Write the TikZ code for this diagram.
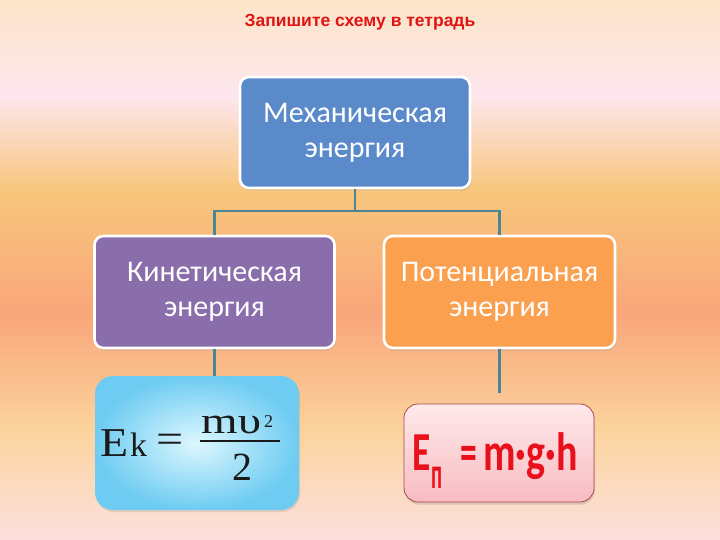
\documentclass[tikz,border=0pt]{standalone}
\usepackage{fontspec}
\usepackage{graphicx}
\setmainfont{Carlito}
\newfontfamily\arialf{Liberation Sans}
\newfontfamily\timesf{Liberation Serif}
\usetikzlibrary{shadows,calc}
\definecolor{bgA}{HTML}{FBE5C8}
\definecolor{bgB}{HTML}{FDE6EE}
\definecolor{bgC}{HTML}{F8C67C}
\definecolor{bgD}{HTML}{F9A67A}
\definecolor{bgE}{HTML}{FBD49E}
\definecolor{bgF}{HTML}{FDE0DF}
\definecolor{mechblue}{HTML}{5A8ACA}
\definecolor{kinpurple}{HTML}{8A6DAB}
\definecolor{potorange}{HTML}{FAA04E}
\definecolor{connteal}{HTML}{4C8593}
\definecolor{titlered}{HTML}{E01414}
\definecolor{formred}{HTML}{E8101A}
\definecolor{forminkb}{HTML}{1A1A1A}
\definecolor{ekin}{HTML}{DDF7FE}
\definecolor{ekout}{HTML}{6ECCF2}
\definecolor{eptop}{HTML}{FFE9EB}
\definecolor{epbot}{HTML}{F7BCC2}
\definecolor{epborder}{HTML}{A8484F}
\tikzset{
  catbox/.style={rounded corners=9pt, draw=white, line width=2.6pt,
    text=white, align=center, inner sep=0pt,
    font=\fontsize{30}{35}\selectfont,
    drop shadow={opacity=0.25, shadow xshift=1pt, shadow yshift=-2.5pt}},
  conn/.style={draw=connteal, line width=2.2pt},
  ekglyph/.style={inner sep=0pt, text=forminkb, font=\timesf},
  epglyph/.style={inner sep=0pt, text=formred, font=\bfseries},
}
\begin{document}
\begin{tikzpicture}[x=1pt,y=-1pt]
\useasboundingbox (0,0) rectangle (720,540);
% background bands
\shade[top color=bgA, bottom color=bgB] (0,0) rectangle (720,97);
\shade[top color=bgB, bottom color=bgC] (0,96.5) rectangle (720,190);
\shade[top color=bgC, bottom color=bgD] (0,189.5) rectangle (720,313);
\shade[top color=bgD, bottom color=bgE] (0,312.5) rectangle (720,433);
\shade[top color=bgE, bottom color=bgF] (0,432.5) rectangle (720,540);

\node[text=titlered, font=\arialf\bfseries\fontsize{17.5}{20}\selectfont] (title) at (360,22) {Запишите схему в тетрадь};

\node[catbox, fill=mechblue, minimum width=230, minimum height=111] (mech) at (355,132.5) {Механическая\\энергия};
\node[catbox, fill=kinpurple, minimum width=240, minimum height=112] (kin) at (214.5,292) {Кинетическая\\энергия};
\node[catbox, fill=potorange, minimum width=231, minimum height=112] (pot) at (499.5,292) {Потенциальная\\энергия};

% kinetic energy formula box
\node[rounded corners=18pt, minimum width=204, minimum height=134, inner sep=0pt,
  shading=radial, inner color=ekin, outer color=ekout,
  drop shadow={opacity=0.2, shadow xshift=1pt, shadow yshift=-2pt}] (ek) at (197,443) {};
\node[ekglyph, anchor=base west] (ekE) at (100,456) {\scalebox{1.12}[1]{\fontsize{41}{41}\selectfont E}};
\node[ekglyph, anchor=base west] (ekk) at (130,456) {\fontsize{34}{34}\selectfont k};
\node[ekglyph, anchor=center] (ekeq) at (170,443.5) {\scalebox{1.2}[1]{\fontsize{40}{40}\selectfont =}};
\node[ekglyph, minimum width=80, minimum height=1.6, fill=forminkb] (ekbar) at (240,441) {};
\node[ekglyph, anchor=base west] (eknum) at (201,433) {\scalebox{1.27}[1]{\fontsize{37}{37}\selectfont mυ}};
\node[ekglyph, anchor=base west] (eksup) at (264,427) {\fontsize{18}{18}\selectfont 2};
\node[ekglyph, anchor=base] (ekden) at (242.5,480) {\fontsize{40}{40}\selectfont 2};

% potential energy formula box
\node[rounded corners=14pt, minimum width=190, minimum height=98, inner sep=0pt,
  draw=epborder, line width=0.8pt, top color=eptop, bottom color=epbot,
  drop shadow={opacity=0.25, shadow xshift=1pt, shadow yshift=-2.5pt}] (ep) at (499,453) {};
\node[epglyph, anchor=base west] (epE) at (412,470) {\scalebox{0.68}[1]{\fontsize{55}{55}\selectfont E}};
\node[epglyph, anchor=base west] (epsub) at (431,488) {\scalebox{0.47}[1]{\fontsize{44}{44}\selectfont п}};
\node[epglyph, anchor=base] (epeq) at (469,470) {\scalebox{0.62}[1]{\fontsize{54}{54}\selectfont =}};
\node[epglyph, anchor=base west] (eprhs) at (483,470) {\scalebox{0.74}[1]{\fontsize{54}{54}\selectfont m·g·h}};

% connectors
\coordinate (j) at (355,211);
\coordinate (epend) at ($(ep.north)+(0,-11)$);
\draw[conn] (mech.south) -- (j);
\draw[conn] (kin.north) |- (j) -| (pot.north);
\draw[conn] (kin.south) -- (kin.south |- ek.north);
\draw[conn] (pot.south) -- (pot.south |- epend);
\end{tikzpicture}
\end{document}
